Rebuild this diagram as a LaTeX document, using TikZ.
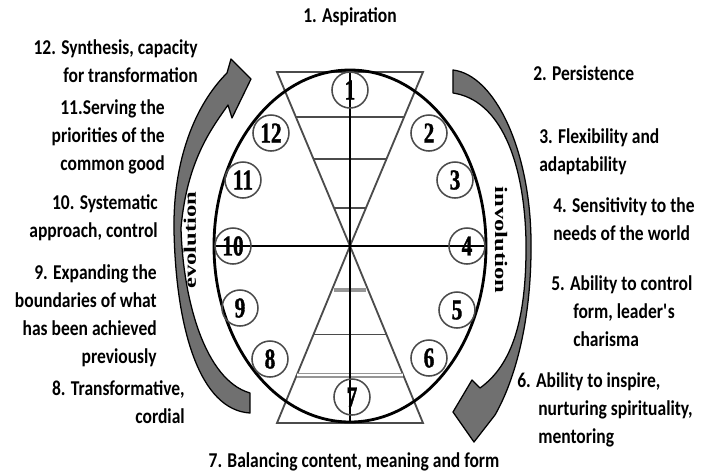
\documentclass[tikz,border=0pt]{standalone}
\usepackage{fontspec}
\setmainfont{Carlito}[FakeStretch=0.83]
\newfontfamily\numfont{Liberation Serif}[FakeStretch=0.74, FakeBold=1.2]
\newfontfamily\rotfont{Liberation Serif}[FakeStretch=1.4]
\definecolor{arrowgray}{RGB}{112, 112, 112}
\definecolor{linegray}{RGB}{75, 75, 75}
\definecolor{bargray}{RGB}{150, 150, 150}
\usetikzlibrary{calc}

\begin{document}
\begin{tikzpicture}[
  num/.style={circle, draw=linegray, line width=1.1pt, minimum size=0.9cm, inner sep=0pt,
              font=\numfont\bfseries\fontsize{20.5}{20}\selectfont},
  lbl/.style={inner sep=0pt, font=\bfseries\fontsize{15}{20}\selectfont},
  tri/.style={draw=linegray, line width=1.3pt},
  flowarrow/.style={draw=black, line width=0.9pt, fill=arrowgray, line join=round},
]
\useasboundingbox (-8.75,-5.7) rectangle (8.85,6.15);

% Hourglass frame
\coordinate (o) at (0,0);
\coordinate (tl) at (-1.825,4.35);
\coordinate (tr) at (1.825,4.35);
\coordinate (bl) at (-1.825,-4.425);
\coordinate (br) at (1.825,-4.425);
\draw[tri] (tl) -- (tr) -- (o) -- cycle;
\draw[tri] (bl) -- (br) -- (o) -- cycle;
\draw[tri] ($(o)!0.74!(tl)$) -- ($(o)!0.74!(tr)$);
\draw[tri] ($(o)!0.5!(tl)$) -- ($(o)!0.5!(tr)$);
\draw[tri] ($(o)!0.22!(tl)$) -- ($(o)!0.22!(tr)$);
\draw[bargray, line width=2.6pt] ($(o)!0.25!(bl)+(0.05,0)$) -- ($(o)!0.25!(br)-(0.05,0)$);
\draw[tri] ($(o)!0.5!(bl)$) -- ($(o)!0.5!(br)$);
\draw[draw=bargray, double, double distance=1.8pt, line width=0.9pt] ($(o)!0.73!(bl)$) -- ($(o)!0.73!(br)$);

% Axes and outer ellipse
\draw[line width=1.1pt] (0,4.35) -- (0,-4.425);
\draw[line width=1.1pt] (-3.4,0) -- (3.4,0);
\draw[line width=2pt] (o) ellipse [x radius=3.4, y radius=4.4];

% Numbered stages
\node[num] (c1) at (0,3.9) {1};
\node[num] (c2) at (1.975,2.825) {2};
\node[num] (c3) at (2.625,1.65) {3};
\node[num] (c4) at (2.925,0) {4};
\node[num] (c5) at (2.675,-1.6) {5};
\node[num] (c6) at (1.975,-2.8) {6};
\node[num] (c7) at (0.05,-3.775) {7};
\node[num] (c8) at (-2.0,-2.825) {8};
\node[num] (c9) at (-2.75,-1.55) {9};
\node[num] (c10) at (-2.925,0) {10};
\node[num] (c11) at (-2.675,1.65) {11};
\node[num] (c12) at (-1.975,2.825) {12};

% Evolution arrow (left, upwards)
\draw[flowarrow] (-2.5,-4.175) .. controls (-3.75,-4.1) and (-4.35,-2.1) .. (-4.4,0.4)
  .. controls (-4.425,2.15) and (-3.875,3.525) .. (-3.075,4.325)
  -- (-2.975,4.675) -- (-2.475,4.175) -- (-2.95,3.2) -- (-3.05,3.525)
  .. controls (-3.45,2.95) and (-4.075,2.15) .. (-4.225,0.45)
  .. controls (-4.175,-1.35) and (-3.625,-3.35) .. (-2.5,-3.675) -- cycle;
\node[rotate=90, inner sep=0pt, font=\rotfont\bfseries\fontsize{12.5}{14}\selectfont] (evo) at (-4.0,0.15) {evolution};

% Involution arrow (right, downwards)
\draw[flowarrow] (2.575,4.4) .. controls (3.625,4.275) and (4.5,2.4) .. (4.525,0.15)
  .. controls (4.55,-1.85) and (4.125,-3.35) .. (3.625,-4.225)
  -- (3.1,-4.9) -- (2.575,-4.15) -- (3.05,-3.35) -- (3.25,-3.55)
  .. controls (4.05,-2.975) and (4.425,-1.85) .. (4.4,0.15)
  .. controls (4.35,2.15) and (3.75,3.65) .. (2.575,3.825) -- cycle;
\node[rotate=-90, inner sep=0pt, font=\rotfont\bfseries\fontsize{12.5}{14}\selectfont] (invo) at (3.775,0.15) {involution};

% Stage labels
\node[lbl] (l1) at (0,5.725) {1. Aspiration};
\node[lbl, anchor=west] (l2) at (4.575,4.325) {2. Persistence};
\node[lbl, anchor=west, align=left] (l3) at (4.725,2.3625) {3. Flexibility and\\adaptability};
\node[lbl, anchor=west, align=left] (l4) at (5.075,0.675) {4. Sensitivity to the\\needs of the world};
\node[lbl, anchor=west, align=left] (l5) at (5.025,-1.625)
{5. Ability to control\\\hspace*{0.55cm}form, leader\textquotesingle s\\\hspace*{0.55cm}charisma};
\node[lbl, anchor=west, align=left] (l6) at (4.175,-4.1)
{6. Ability to inspire,\\\hspace*{0.525cm}nurturing spirituality,\\\hspace*{0.525cm}mentoring};
\node[lbl] (l7) at (0.1,-5.4) {7. Balancing content, meaning and form};
\node[lbl, anchor=east, align=right] (l8) at (-4.125,-3.9) {8. Transformative,\\cordial};
\node[lbl, anchor=east, align=right] (l9) at (-4.825,-1.744)
{9. Expanding the\\boundaries of what\\has been achieved\\previously};
\node[lbl, anchor=east, align=right] (l10) at (-4.8,0.7) {10. Systematic\\approach, control};
\node[lbl, anchor=east, align=right] (l11) at (-4.625,2.725) {11.Serving the\\priorities of the\\common good};
\node[lbl, anchor=east, align=right] (l12) at (-3.8,4.625) {12. Synthesis, capacity\\for transformation};
\end{tikzpicture}
\end{document}
